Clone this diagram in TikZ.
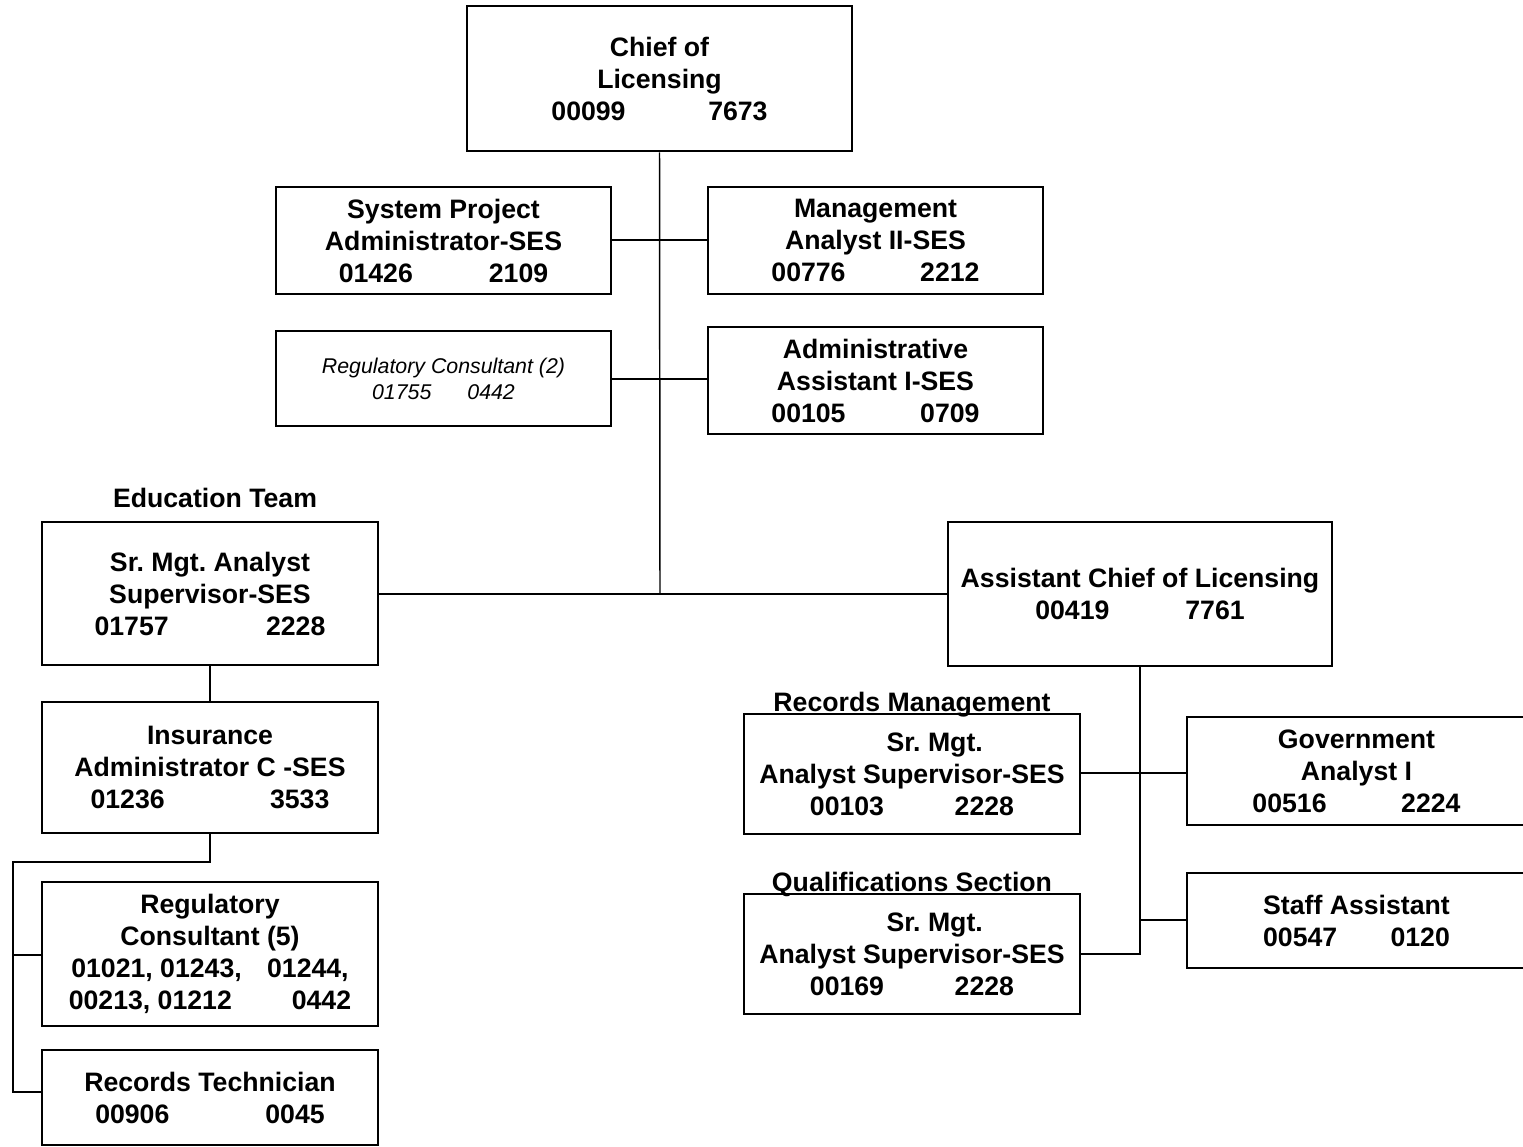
\documentclass[tikz,border=0pt]{standalone}
\usepackage{fontspec}
\setmainfont{Liberation Sans}
\frenchspacing
\begin{document}
\begin{tikzpicture}[x=0.75pt,y=-0.75pt,
  post/.style={draw, line width=1.4pt, inner sep=0pt, align=center,
    font=\bfseries\fontsize{20}{24}\selectfont},
  wide/.style={minimum width=252pt},
  staffpost/.style={post, font=\fontsize{16}{19.5}\selectfont\itshape},
  unitlabel/.style={anchor=base, inner sep=0pt, font=\bfseries\fontsize{20}{24}\selectfont},
  link/.style={line width=1.1pt}]
\useasboundingbox (0,0) rectangle (1523,1146);
\clip (0,0) rectangle (1523,1146);

% top of the chart
\node[post, line width=2.2pt, minimum width=288.75pt, minimum height=108.75pt] (chief) at (659.5,78.5)
  {Chief of\\Licensing\\00099\hspace{62pt}7673};

% staff attached to the chief
\node[post, minimum width=251.25pt, minimum height=80.25pt] (sys) at (443.5,240.5)
  {System Project\\Administrator-SES\\01426\hspace{57pt}2109};
\node[post, minimum width=251.25pt, minimum height=80.25pt] (mgmt) at (875.5,240.5)
  {Management\\Analyst II-SES\\00776\hspace{56pt}2212};
\node[staffpost, minimum width=251.25pt, minimum height=71.25pt] (rc2) at (443.5,378.5)
  {Regulatory Consultant (2)\\01755\hspace{27pt}0442};
\node[post, minimum width=251.25pt, minimum height=80.25pt] (admin) at (875.5,380.5)
  {Administrative\\Assistant I-SES\\00105\hspace{56pt}0709};

% education team branch
\node[unitlabel] (edlbl) at (215,507) {Education Team};
\node[post, wide, minimum height=107.25pt] (ed) at (210,593.5)
  {Sr. Mgt. Analyst\\Supervisor-SES\\01757\hspace{73pt}2228};
\node[post, wide, minimum height=98.25pt] (ins) at (210,767.5)
  {Insurance\\Administrator C -SES\\01236\hspace{79pt}3533};
\node[post, wide, minimum height=108pt] (rc5) at (210,954)
  {Regulatory\\Consultant (5)\\01021, 01243,\hspace{19pt}01244,\\00213, 01212\hspace{45pt}0442};
\node[post, wide, minimum height=71.25pt] (rt) at (210,1097.5)
  {Records Technician\\00906\hspace{72pt}0045};

% assistant chief branch
\node[post, minimum width=288pt, minimum height=108pt] (asst) at (1140,594)
  {Assistant Chief of Licensing\\00419\hspace{57pt}7761};
\node[unitlabel] (rmlbl) at (912,711) {Records Management};
\node[post, wide, minimum height=90pt] (rm) at (912,774)
  {\hspace*{34pt}Sr. Mgt.\\Analyst Supervisor-SES\\00103\hspace{53pt}2228};
\node[unitlabel] (qslbl) at (912,891) {Qualifications Section};
\node[post, wide, minimum height=90pt] (qs) at (912,954)
  {\hspace*{34pt}Sr. Mgt.\\Analyst Supervisor-SES\\00169\hspace{53pt}2228};
\node[post, minimum width=254.25pt, minimum height=81pt] (govt) at (1356.5,771)
  {Government\\Analyst I\\00516\hspace{56pt}2224};
\node[post, minimum width=254.25pt, minimum height=71.25pt] (staff) at (1356.5,920.5)
  {Staff Assistant\\00547\hspace{40pt}0120};

% junction points
\coordinate (trunk) at (660,594);
\coordinate (j1) at (660,240);
\coordinate (j2) at (660,379);
\coordinate (ebend) at (210,862);
\coordinate (ecorner) at (13,862);
\coordinate (ebottom) at (13,1092);
\coordinate (ej) at (13,955);
\coordinate (rj1) at (1140,773);
\coordinate (rj2) at (1140,920);
\coordinate (rbottom) at (1140,954);

% connectors
\draw[link] (chief.south) -- (trunk);
\draw[link] (sys.east|-j1) -- (mgmt.west|-j1);
\draw[link] (rc2.east|-j2) -- (admin.west|-j2);
\draw[link] (ed.east|-trunk) -- (asst.west|-trunk);
\draw[link] (ed.south) -- (ins.north);
\draw[link] (ins.south) -- (ebend) -- (ecorner) -- (ebottom) -- (rt.west|-ebottom);
\draw[link] (ej) -- (rc5.west|-ej);
\draw[link] (asst.south) -- (rbottom) -- (qs.east|-rbottom);
\draw[link] (rm.east|-rj1) -- (govt.west|-rj1);
\draw[link] (rj2) -- (staff.west|-rj2);
\end{tikzpicture}
\end{document}
